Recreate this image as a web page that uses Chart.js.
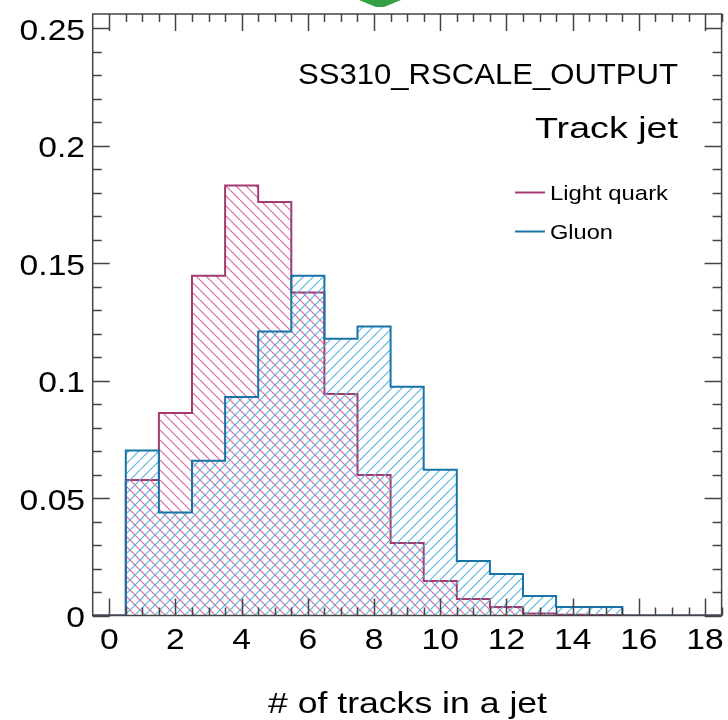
<!DOCTYPE html>
<html>
<head>
<meta charset="utf-8">
<script src="https://cdn.jsdelivr.net/npm/chart.js@4.4.1/dist/chart.umd.min.js"></script>
<style>
    body { margin: 0; background: #ffffff; }
    #wrap { width: 728px; height: 720px; position: relative; }
</style>
</head>
<body>
<div id="wrap"><canvas id="trackChart"></canvas></div>
<script>
// bin centres (# of tracks), one bin per integer
const binCenters = [0, 1, 2, 3, 4, 5, 6, 7, 8, 9, 10, 11, 12, 13, 14, 15, 16, 17, 18];

// normalised fractions
const lightQuark = [0, 0.0577, 0.0862, 0.1446, 0.1830, 0.1760, 0.1375, 0.0943, 0.0598, 0.0309,
    0.0147, 0.0070, 0.0036, 0.0008, 0.0003, 0.0002, 0, 0, 0];
const gluon = [0, 0.0702, 0.0438, 0.0659, 0.0930, 0.1209, 0.1446, 0.1178, 0.1230, 0.0974,
    0.0620, 0.0232, 0.0177, 0.0083, 0.0036, 0.0036, 0, 0, 0];

// axis ticks
const xTickValues = [0, 2, 4, 6, 8, 10, 12, 14, 16, 18];
const xTickLabels = ['0', '2', '4', '6', '8', '10', '12', '14', '16', '18'];
const yTickValues = [0, 0.05, 0.1, 0.15, 0.2, 0.25];
const yTickLabels = ['0', '0.05', '0.1', '0.15', '0.2', '0.25'];

const xTitle = '# of tracks in a jet';
const seriesNames = ['Light quark', 'Gluon'];

const redLine = '#a33b70';
const redHatch = '#d96aa2';
const blueLine = '#1873a6';
const blueHatch = '#5bb6e0';
const FONT = '"Liberation Sans", Arial, Helvetica, sans-serif';

// histogram -> step points (left edge of each bin, plus closing right edge)
function toSteps(values) {
    const pts = values.map((v, i) => ({ x: binCenters[i] - 0.5, y: v }));
    const last = values.length - 1;
    pts.push({ x: binCenters[last] + 0.5, y: values[last] });
    return pts;
}

// ROOT-like hatch fill
function makeHatch(color, dir) {
    const s = 10;
    const c = document.createElement('canvas');
    c.width = s; c.height = s;
    const g = c.getContext('2d');
    g.strokeStyle = color;
    g.lineWidth = 1.2;
    g.beginPath();
    for (let k = -1; k <= 1; k++) {
        if (dir === '/') {
            g.moveTo(k * s, s);
            g.lineTo(k * s + s, 0);
        } else {
            g.moveTo(k * s, 0);
            g.lineTo(k * s + s, s);
        }
    }
    g.stroke();
    return g.createPattern(c, 'repeat');
}

// text helper: stretch horizontally to the width seen in the reference
function drawText(ctx, text, x, y, size, align, width) {
    ctx.save();
    ctx.font = size + 'px ' + FONT;
    ctx.textBaseline = 'alphabetic';
    ctx.fillStyle = '#000000';
    const natural = ctx.measureText(text).width;
    const sx = width ? width / natural : 1.12;
    const w = natural * sx;
    let left = x;
    if (align === 'right') left = x - w;
    if (align === 'center') left = x - w / 2;
    ctx.translate(left, y);
    ctx.scale(sx, 1);
    ctx.textAlign = 'left';
    ctx.fillText(text, 0, 0);
    ctx.restore();
}

const rootFrame = {
    id: 'rootFrame',
    beforeDraw(chart) {
        const ctx = chart.ctx;
        ctx.save();
        ctx.fillStyle = '#ffffff';
        ctx.fillRect(0, 0, chart.width, chart.height);
        ctx.restore();
    },
    afterDraw(chart) {
        const ctx = chart.ctx;
        const a = chart.chartArea;
        const xs = chart.scales.x;
        const ys = chart.scales.y;

        ctx.save();
        ctx.strokeStyle = '#444444';
        ctx.lineWidth = 1.5;

        // ticks on all four sides, pointing inward
        ctx.beginPath();
        for (let v = 0; v <= 18.5 + 1e-9; v += 0.5) {
            const px = Math.round(xs.getPixelForValue(v)) + 0.5;
            const len = xTickValues.includes(v) ? 17 : 8;
            ctx.moveTo(px, a.bottom); ctx.lineTo(px, a.bottom - len);
            ctx.moveTo(px, a.top); ctx.lineTo(px, a.top + len);
        }
        for (let i = 0; i <= 25; i++) {
            const v = i / 100;
            const py = Math.round(ys.getPixelForValue(v)) + 0.5;
            const len = i % 5 === 0 ? 17 : 9;
            ctx.moveTo(a.left, py); ctx.lineTo(a.left + len, py);
            ctx.moveTo(a.right, py); ctx.lineTo(a.right - len, py);
        }
        ctx.stroke();

        // frame
        ctx.strokeRect(a.left, a.top, a.right - a.left, a.bottom - a.top);
        ctx.restore();

        // tick labels
        xTickValues.forEach((v, i) => {
            drawText(ctx, xTickLabels[i], xs.getPixelForValue(v), 649, 30, 'center');
        });
        yTickValues.forEach((v, i) => {
            drawText(ctx, yTickLabels[i], 85, ys.getPixelForValue(v) + 11.5, 30, 'right');
        });

        // axis title
        drawText(ctx, xTitle, 268, 713, 30, 'left', 279);

        // labels in the frame
        drawText(ctx, 'SS310_RSCALE_OUTPUT', 678, 84, 30, 'right', 380);
        drawText(ctx, 'Track jet', 678, 138, 29, 'right', 143);

        // legend
        ctx.save();
        ctx.lineWidth = 2;
        ctx.strokeStyle = redLine;
        ctx.beginPath(); ctx.moveTo(515, 192.5); ctx.lineTo(545, 192.5); ctx.stroke();
        ctx.strokeStyle = blueLine;
        ctx.beginPath(); ctx.moveTo(515, 231.5); ctx.lineTo(545, 231.5); ctx.stroke();
        ctx.restore();
        drawText(ctx, seriesNames[0], 550, 200, 21, 'left', 118);
        drawText(ctx, seriesNames[1], 550, 239, 21, 'left', 63);

        // green tab cut off at the top edge
        ctx.save();
        ctx.fillStyle = '#33a043';
        ctx.beginPath();
        ctx.moveTo(359, 0); ctx.lineTo(401, 0); ctx.lineTo(384, 7); ctx.lineTo(376, 7);
        ctx.closePath();
        ctx.fill();
        ctx.restore();
    }
};

document.addEventListener('DOMContentLoaded', () => {
    const ctx = document.getElementById('trackChart').getContext('2d');
    new Chart(ctx, {
        type: 'line',
        data: {
            datasets: [{
                label: seriesNames[1],
                data: toSteps(gluon),
                borderColor: blueLine,
                backgroundColor: makeHatch(blueHatch, '/'),
                borderWidth: 2,
                fill: 'origin',
                stepped: true,
                pointRadius: 0,
                order: 0
            }, {
                label: seriesNames[0],
                data: toSteps(lightQuark),
                borderColor: redLine,
                backgroundColor: makeHatch(redHatch, '\\'),
                borderWidth: 2,
                fill: 'origin',
                stepped: true,
                pointRadius: 0,
                order: 1
            }]
        },
        options: {
            responsive: true,
            maintainAspectRatio: false,
            animation: false,
            layout: { padding: { left: 92.7, right: 6.4, top: 14, bottom: 104.5 } },
            plugins: {
                legend: { display: false },
                tooltip: { enabled: false }
            },
            scales: {
                x: { type: 'linear', min: -0.5, max: 18.5, display: false },
                y: { type: 'linear', min: 0, max: 0.256, display: false }
            }
        },
        plugins: [rootFrame]
    });
});
</script>
</body>
</html>
